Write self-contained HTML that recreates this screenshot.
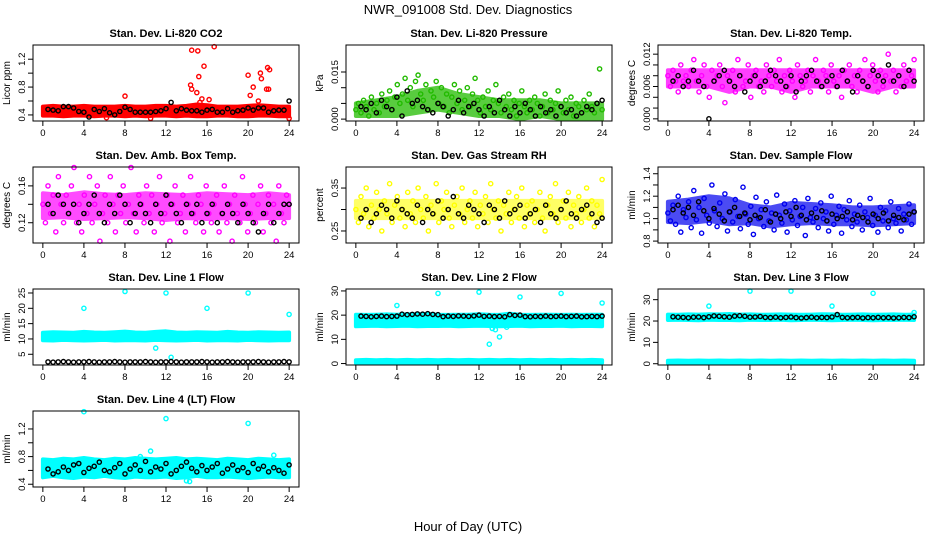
<!DOCTYPE html>
<html><head><meta charset="utf-8"><style>
body{margin:0;background:#fff}
svg{display:block;font-family:"Liberation Sans",sans-serif}
</style></head><body>
<svg id="chart" width="936" height="540" viewBox="0 0 936 540">
<text x="468" y="14" font-size="13" text-anchor="middle">NWR_091008  Std. Dev. Diagnostics</text>
<text x="468" y="531" font-size="13" text-anchor="middle">Hour of Day (UTC)</text>
</svg>
<script>
const xTicks=[0,4,8,12,16,20,24];
// CO2 (ppm)
const co2BandLo=[0.39,0.39,0.38,0.39,0.39,0.38,0.39,0.39,0.38,0.39,0.38,0.39,0.39,0.38,0.39,0.38,0.38,0.39,0.39,0.38,0.38,0.39,0.39,0.38,0.38];
const co2BandHi=[0.52,0.53,0.52,0.52,0.53,0.52,0.52,0.52,0.53,0.52,0.52,0.53,0.53,0.52,0.53,0.55,0.54,0.52,0.52,0.52,0.53,0.54,0.53,0.52,0.52];
const co2OutX=[8,14.4,14.5,14.5,15,15.1,15.2,15.7,16.7,15.5,16.2,20,20.2,20.5,21.2,21.3,21.8,22,21.9,22.1,10.5,24,6.2,21,15.3];
const co2OutY=[0.67,0.83,0.77,1.33,0.72,1.32,0.95,1.1,1.38,0.63,0.62,0.97,0.68,0.8,1.0,0.92,0.77,0.77,1.08,1.05,0.35,0.35,0.36,0.6,0.58];
const co2Black=[0.48,0.47,0.46,0.52,0.52,0.5,0.45,0.44,0.37,0.48,0.45,0.49,0.43,0.4,0.45,0.51,0.48,0.44,0.44,0.44,0.44,0.45,0.46,0.49,0.58,0.46,0.49,0.47,0.46,0.46,0.44,0.47,0.48,0.44,0.44,0.49,0.44,0.46,0.47,0.5,0.47,0.5,0.5,0.44,0.46,0.47,0.47,0.6];
// Pressure (x0.001 kPa)
const pressCoreLo=[1,1,1,2,3,2,1,1,0,1,0,0,0];
const pressCoreHi=[5,6,7,9,10,8,7,6,6,6,5,5,5];
const pressGreen=[3,5,2,6,4,1,7,3,5,2,8,4,6,9,3,7,11,5,8,13,6,10,4,12,14,8,6,11,3,9,7,12,5,10,4,8,2,7,11,5,9,3,6,10,4,8,13,6,2,7,4,9,3,6,11,5,2,7,4,8,3,6,1,5,9,4,2,6,3,7,5,1,4,8,2,6,3,5,9,4,2,6,3,7,1,5,4,2,6,3,8,4,2,5,16,3];
const pressBlack=[4,3,5,2,6,4,3,7,1,9,5,6,4,3,2,5,4,1,3,6,2,4,5,3,1,4,2,6,3,1,4,2,5,3,1,4,2,3,1,4,2,3,1,2,4,3,5,6];
// Temperature (x0.001 degC)
const tempCoreLo=[6,6,6,5,6,6,5,6,6,6,5,6,6];
const tempCoreHi=[9,9,9,9,9,9,9,9,9,9,9,9,9];
const tempMag=[8,6,9,7,5,10,7,8,6,9,11,7,5,8,10,6,4,9,7,8,10,6,3,8,7,9,5,11,8,6,7,10,4,8,9,6,7,5,10,8,6,9,7,11,5,8,6,9,7,4,10,8,6,7,9,5,8,11,7,6,9,8,5,10,7,6,8,4,9,7,10,6,8,5,9,7,11,6,8,10,7,5,9,6,8,12,7,9,5,8,6,10,7,9,8,11];
const tempBlack=[7,8,6,7,9,7,6,0,7,8,9,7,6,8,5,7,8,6,7,9,8,7,6,8,5,7,8,9,7,6,7,8,6,9,7,5,8,7,6,9,8,7,10,7,8,6,9,7];
// Amb box temp (x0.01 degC)
const ambCoreLo=[12.5,12.6,12.4,12.5,12.6,12.5,12.3,12.5,12.4,12.5,12.4,12.5,12.5];
const ambCoreHi=[15.2,15.0,15.3,15.1,15.0,15.2,15.1,15.0,15.2,15.1,15.0,15.2,15.0];
const ambMag=[14,12,16,13,15,11,17,14,12,15,13,16,18,12,14,11,15,13,17,12,14,16,10,13,15,12,17,14,11,15,13,16,12,14,18,13,11,15,14,12,16,13,15,11,14,17,12,13,15,10,14,16,12,13,15,11,14,17,13,12,15,14,11,16,13,12,14,15,11,13,16,12,14,10,15,13,12,17,14,11,13,15,12,14,16,11,13,15,12,14,10,16,13,12,15,14];
const ambBlack=[14,13,15,14,13,14,12,13,14,15,13,12,14,13,15,14,12,13,14,13,12,14,13,15,14,13,12,14,13,14,12,13,14,12,13,14,13,12,14,13,12,11,13,14,12,13,14,14];
// RH (x0.01 percent)
const rhCoreLo=[28,28,28,28,28,28,28,28,28,28,28,28,28];
const rhCoreHi=[32,32,32,32,32,32,32,32,32,32,32,32,32];
const rhYellow=[30,27,33,29,35,26,31,28,34,30,25,32,29,36,27,31,33,28,30,26,34,29,32,27,35,30,28,33,25,31,29,36,27,32,30,34,28,26,31,33,29,35,27,30,32,28,34,26,31,29,33,27,36,30,28,32,25,31,29,34,27,30,33,28,35,26,31,29,32,27,30,34,28,25,31,33,29,36,27,30,32,28,34,26,31,29,33,27,30,35,28,32,26,31,29,37];
const rhBlack=[28,30,27,29,31,30,28,32,30,29,28,31,27,30,29,32,28,30,33,29,28,31,30,29,27,31,30,28,32,29,30,31,28,29,30,27,31,29,28,30,32,29,28,30,31,29,27,28];
// Sample flow (x0.01 ml/min)
const sampCoreLo=[97,96,98,95,96,93,95,96,95,95,94,95,96];
const sampCoreHi=[115,117,120,118,112,110,114,113,112,110,110,111,112];
const sampBlue=[105,98,112,95,120,88,108,101,115,92,125,99,110,87,118,103,96,130,107,93,114,100,122,89,106,97,117,102,91,128,104,95,111,86,119,100,108,93,115,98,105,90,121,103,96,113,88,107,99,116,94,102,110,85,118,101,97,109,92,114,100,106,89,120,95,103,111,87,108,99,116,93,104,97,112,90,106,101,118,94,103,88,110,98,107,92,115,100,96,109,89,104,99,113,95,106];
const sampBlack=[108,112,105,110,103,115,107,100,109,104,98,106,110,102,105,99,103,101,108,97,104,100,106,102,110,103,99,105,101,107,98,104,100,102,106,99,103,101,97,104,100,105,98,103,101,99,104,106];
// Line 1
const l1BandLo=[9.6,9.5,9.7,9.6,9.5,9.6,9.7,9.5,9.6,9.6,9.5,9.7,9.6,9.5,9.6,9.7,9.5,9.6,9.6,9.5,9.7,9.6,9.5,9.6,9.6];
const l1BandHi=[12.0,12.2,12.1,12.0,12.3,12.1,12.0,12.2,12.4,12.1,12.0,12.3,12.5,12.1,12.0,12.2,12.1,12.0,12.3,12.1,12.0,12.2,12.1,12.0,12.1];
const l1OutX=[4,8,12,16,20,24,12.5,11];
const l1OutY=[20,25.5,25,20,25,18,4,7];
const l1Black=[2.5,2.4,2.5,2.6,2.5,2.4,2.5,2.5,2.6,2.5,2.4,2.5,2.5,2.6,2.5,2.4,2.5,2.5,2.5,2.6,2.5,2.4,2.5,2.5,2.6,2.5,2.4,2.5,2.5,2.5,2.6,2.5,2.4,2.5,2.5,2.6,2.5,2.4,2.5,2.5,2.5,2.6,2.5,2.4,2.5,2.5,2.6,2.5];
// Line 2
const l2BandLo=[15.4,15.5,15.6,15.4,15.5,15.6,15.4,15.5,15.5,15.6,15.4,15.5,15.6,15.5,15.4,15.5,15.6,15.4,15.5,15.5,15.6,15.4,15.5,15.5,15.4];
const l2BandHi=[20.2,20.1,20.2,20.3,20.2,20.4,20.3,20.5,20.2,20.1,20.2,20.2,20.4,20.2,20.1,20.6,20.2,20.1,20.2,20.2,20.1,20.2,20.1,20.2,20.2];
const l2OutX=[4,8,12,16,20,24,13,14,13.6,14.7,13.3];
const l2OutY=[24,29,29.5,27.5,29,25,8,11,14,15,14.5];
const l2Black=[19.6,19.5,19.3,19.5,19.6,19.4,19.5,19.6,20.4,20.2,20.3,20.5,20.4,20.6,20.3,20.2,19.4,19.6,19.5,19.7,19.6,19.5,19.7,20.0,19.5,19.6,19.4,19.5,19.3,20.2,19.9,20.0,19.4,19.3,19.5,19.4,19.6,19.4,19.5,19.6,19.4,19.5,19.6,19.3,19.4,19.5,19.4,19.6];
const l2Low=[1.4,1.5,1.4,1.5,1.4,1.5,1.4,1.5,1.4,1.5,1.4,1.5,1.4,1.5,1.4,1.5,1.4,1.5,1.4,1.5,1.4,1.5,1.4,1.5,1.4];
// Line 3
const l3BandLo=[20.5,20.6,20.5,20.4,20.6,20.5,20.5,20.4,20.6,20.5,20.5,20.6,20.4,20.5,20.6,20.5,20.4,20.5,20.6,20.5,20.4,20.5,20.5,20.6,20.5];
const l3BandHi=[23.0,22.9,23.1,23.0,23.2,23.1,23.3,23.0,23.1,22.9,23.0,23.1,23.0,22.9,23.0,23.2,23.1,22.9,23.0,23.1,22.9,23.0,23.1,22.9,23.0];
const l3OutX=[4,8,12,16,20,24];
const l3OutY=[27,34,34,27,33,24];
const l3Black=[22.0,21.8,21.7,21.5,21.8,21.9,21.6,22.0,22.4,22.2,22.0,21.8,22.3,22.5,22.2,21.8,21.9,22.1,21.7,21.6,21.8,21.5,21.7,21.9,21.6,21.4,21.6,21.8,21.5,21.7,21.6,21.9,23.0,21.7,21.5,21.6,21.7,21.4,21.6,21.5,21.7,21.5,21.6,21.4,21.5,21.7,21.6,22.0];
const l3Low=[1.4,1.5,1.4,1.5,1.4,1.5,1.4,1.5,1.4,1.5,1.4,1.5,1.4,1.5,1.4,1.5,1.4,1.5,1.4,1.5,1.4,1.5,1.4,1.5,1.4];
// Line 4
const l4BandLo=[0.5,0.52,0.5,0.49,0.51,0.5,0.52,0.5,0.49,0.51,0.5,0.5,0.51,0.49,0.5,0.52,0.5,0.5,0.51,0.5,0.49,0.5,0.51,0.5,0.5];
const l4BandHi=[0.76,0.75,0.77,0.76,0.78,0.76,0.75,0.77,0.76,0.78,0.77,0.76,0.77,0.78,0.76,0.77,0.76,0.75,0.77,0.76,0.75,0.77,0.76,0.75,0.76];
const l4OutX=[4,12,20,10.5,9.5,14,14.3,22.5];
const l4OutY=[1.45,1.35,1.28,0.88,0.8,0.45,0.44,0.82];
const l4Black=[0.62,0.55,0.58,0.65,0.6,0.68,0.7,0.57,0.63,0.66,0.72,0.6,0.58,0.64,0.7,0.55,0.62,0.68,0.6,0.73,0.58,0.65,0.62,0.7,0.55,0.6,0.66,0.72,0.63,0.58,0.67,0.6,0.65,0.7,0.56,0.62,0.68,0.6,0.64,0.57,0.7,0.62,0.66,0.58,0.64,0.6,0.56,0.68];

const NS="http://www.w3.org/2000/svg";
const svg=document.getElementById('chart');
const cols=[33,346,658],rows=[45,167,289,411],W=266,H=76;
function el(t,a,p){const e=document.createElementNS(NS,t);for(const k in a)e.setAttribute(k,a[k]);(p||svg).appendChild(e);return e;}
function hours(n,start,end){const r=[];for(let i=0;i<n;i++)r.push(start+(end-start)*i/(n-1));return r;}

function panel(cfg){
  const x0=cols[cfg.c],y0=rows[cfg.r];
  const g=el('g',{});
  
  
  const xs=v=>x0+W*(v+0.96)/25.92;
  const ys=v=>y0+H-H*(v-cfg.ylim[0])/(cfg.ylim[1]-cfg.ylim[0]);
  const t=el('text',{x:x0+W/2,y:y0-8,'font-size':11,'font-weight':'bold','text-anchor':'middle'},g);
  t.textContent=cfg.title;
  
  
  const pts=el('g',{},g);
  const circ=(x,y,c)=>{const e=el('circle',{cx:xs(x).toFixed(1),cy:ys(y).toFixed(1),r:2.1,fill:'none',stroke:c,'stroke-width':1.4},pts);
    
    };
  (cfg.bands||[]).forEach(b=>{
    const hx=hours(b.lo.length,0,24);
    let d='M'+hx.map((h,i)=>xs(h).toFixed(1)+','+ys(b.hi[i]).toFixed(1)).join('L');
    d+='L'+hx.slice().reverse().map((h,i)=>xs(h).toFixed(1)+','+ys(b.lo[b.lo.length-1-i]).toFixed(1)).join('L')+'Z';
    const p=el('path',{d:d,fill:b.color,stroke:b.color,'stroke-width':4,'stroke-linejoin':'round','opacity':b.op||1},pts);
    
    
  });
  (cfg.clouds||[]).forEach(s=>{const hx=hours(s.v.length,0,24);s.v.forEach((v,i)=>circ(hx[i],v,s.color));});
  if(cfg.outX)cfg.outX.forEach((x,i)=>circ(x,cfg.outY[i],cfg.color));
  if(cfg.black){const hx=hours(cfg.black.length,0.5,24);cfg.black.forEach((v,i)=>circ(hx[i],v,'#000'));}
  el('rect',{x:x0,y:y0,width:W,height:H,fill:'none',stroke:'#000','stroke-width':1},g);
  el('line',{x1:xs(0),x2:xs(24),y1:y0+H,y2:y0+H,stroke:'#000'},g);
  xTicks.forEach(v=>{el('line',{x1:xs(v),x2:xs(v),y1:y0+H,y2:y0+H+5,stroke:'#000'},g);
    const tx=el('text',{x:xs(v),y:y0+H+15,'font-size':9.5,'text-anchor':'middle'},g);tx.textContent=v;
    
    });
  const yt=cfg.yTicks;
  el('line',{x1:x0,x2:x0,y1:ys(yt[0]),y2:ys(yt[yt.length-1]),stroke:'#000'},g);
  yt.forEach((v,i)=>{el('line',{x1:x0-5,x2:x0,y1:ys(v),y2:ys(v),stroke:'#000'},g);
    const lab=cfg.yLabels[i]; if(!lab)return;
    const ty=ys(v),tx=x0-8;
    const tt=el('text',{x:tx,y:ty,'font-size':9.5,'text-anchor':'middle',transform:`rotate(-90 ${tx} ${ty})`},g);tt.textContent=lab;
    
    });
  const yl=el('text',{x:x0-23,y:y0+H/2,'font-size':10,'text-anchor':'middle',transform:`rotate(-90 ${x0-23} ${y0+H/2})`},g);
  yl.textContent=cfg.ylab;
  
  
}
const RED='#ff0000',GRN='#22bb00',MAG='#ff00ff',YEL='#ffff00',BLU='#0000ee',CY='#00ffff';
panel({name:'panel-co2',c:0,r:0,title:'Stan. Dev. Li-820 CO2',ylab:'Licor ppm',ylim:[0.313,1.404],yTicks:[0.4,0.6,0.8,1.0,1.2],yLabels:['0.4','','0.8','','1.2'],bands:[{lo:co2BandLo,hi:co2BandHi,color:RED}],outX:co2OutX,outY:co2OutY,color:RED,black:co2Black});
panel({name:'panel-pressure',c:1,r:0,title:'Stan. Dev. Li-820 Pressure',ylab:'kPa',ylim:[-0.6,23.6],yTicks:[0,5,10,15],yLabels:['0.000','','','0.015'],bands:[{lo:pressCoreLo,hi:pressCoreHi,color:GRN,op:0.75}],clouds:[{v:pressGreen,color:GRN}],black:pressBlack});
panel({name:'panel-temp',c:2,r:0,title:'Stan. Dev. Li-820 Temp.',ylab:'degrees C',ylim:[-0.4,13.7],yTicks:[0,2,4,6,8,10,12],yLabels:['0.000','','','0.006','','','0.012'],bands:[{lo:tempCoreLo,hi:tempCoreHi,color:MAG,op:0.75}],clouds:[{v:tempMag,color:MAG}],black:tempBlack});
panel({name:'panel-amb-box',c:0,r:1,title:'Stan. Dev. Amb. Box Temp.',ylab:'degrees C',ylim:[9.8,18.05],yTicks:[12,14,16],yLabels:['0.12','','0.16'],bands:[{lo:ambCoreLo,hi:ambCoreHi,color:MAG,op:0.7}],clouds:[{v:ambMag,color:MAG}],black:ambBlack});
panel({name:'panel-rh',c:1,r:1,title:'Stan. Dev. Gas Stream RH',ylab:'percent',ylim:[22.2,39.9],yTicks:[25,30,35],yLabels:['0.25','','0.35'],bands:[{lo:rhCoreLo,hi:rhCoreHi,color:YEL,op:0.6}],clouds:[{v:rhYellow,color:YEL}],black:rhBlack});
panel({name:'panel-sample-flow',c:2,r:1,title:'Stan. Dev. Sample Flow',ylab:'ml/min',ylim:[78.3,146],yTicks:[80,90,100,110,120,130,140],yLabels:['0.8','','1.0','','1.2','','1.4'],bands:[{lo:sampCoreLo,hi:sampCoreHi,color:BLU,op:0.7}],clouds:[{v:sampBlue,color:BLU}],black:sampBlack});
panel({name:'panel-line1',c:0,r:2,title:'Stan. Dev. Line 1 Flow',ylab:'ml/min',ylim:[1.5,26.3],yTicks:[5,10,15,20,25],yLabels:['5','10','15','20','25'],bands:[{lo:l1BandLo,hi:l1BandHi,color:CY}],outX:l1OutX,outY:l1OutY,color:CY,black:l1Black});
panel({name:'panel-line2',c:1,r:2,title:'Stan. Dev. Line 2 Flow',ylab:'ml/min',ylim:[-0.6,30.8],yTicks:[0,10,20,30],yLabels:['0','10','20','30'],bands:[{lo:l2BandLo,hi:l2BandHi,color:CY},{lo:l2Low.map(v=>v-1.1),hi:l2Low,color:CY}],outX:l2OutX,outY:l2OutY,color:CY,black:l2Black});
panel({name:'panel-line3',c:2,r:2,title:'Stan. Dev. Line 3 Flow',ylab:'ml/min',ylim:[-0.6,35.0],yTicks:[0,10,20,30],yLabels:['0','10','20','30'],bands:[{lo:l3BandLo,hi:l3BandHi,color:CY},{lo:l3Low.map(v=>v-1.1),hi:l3Low,color:CY}],outX:l3OutX,outY:l3OutY,color:CY,black:l3Black});
panel({name:'panel-line4',c:0,r:3,title:'Stan. Dev. Line 4 (LT) Flow',ylab:'ml/min',ylim:[0.36,1.46],yTicks:[0.4,0.6,0.8,1.0,1.2],yLabels:['0.4','','0.8','','1.2'],bands:[{lo:l4BandLo,hi:l4BandHi,color:CY}],outX:l4OutX,outY:l4OutY,color:CY,black:l4Black});
</script>
</body></html>
